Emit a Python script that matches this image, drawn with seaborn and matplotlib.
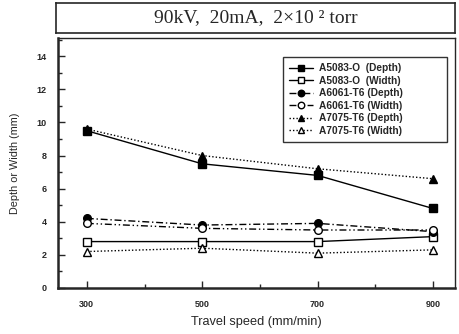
import matplotlib
matplotlib.use("Agg")
import matplotlib.pyplot as plt
import seaborn as sns
import pandas as pd
from matplotlib.ticker import MultipleLocator

speeds = [300, 500, 700, 900]
a5083_depth = [9.5, 7.5, 6.8, 4.8]
a5083_width = [2.8, 2.8, 2.8, 3.1]
a6061_depth = [4.2, 3.8, 3.9, 3.4]
a6061_width = [3.9, 3.6, 3.5, 3.5]
a7075_depth = [9.6, 8.0, 7.2, 6.6]
a7075_width = [2.2, 2.4, 2.1, 2.3]

labels = ["A5083-O  (Depth)", "A5083-O  (Width)", "A6061-T6 (Depth)",
          "A6061-T6 (Width)", "A7075-T6 (Depth)", "A7075-T6 (Width)"]
series = [a5083_depth, a5083_width, a6061_depth, a6061_width, a7075_depth, a7075_width]
title_text = "90kV,  20mA,  2×10 ² torr"

sns.set_style("ticks")
plt.rcParams['font.family'] = ['Liberation Sans', 'DejaVu Sans']

fig = plt.figure(figsize=(4.6, 3.34), dpi=100)

# title box
tax = fig.add_axes([0.122, 0.901, 0.867, 0.090])
tax.set_xticks([]); tax.set_yticks([])
for s in tax.spines.values():
    s.set_linewidth(1.2)
tax.text(0.5, 0.5, title_text, ha='center', va='center', fontsize=14,
         family=['Liberation Serif', 'DejaVu Serif'])

ax = fig.add_axes([0.126, 0.138, 0.863, 0.748])
styles = [
    dict(marker='s', mfc='black', ls='-'),
    dict(marker='s', mfc='white', ls='-'),
    dict(marker='o', mfc='black', ls=(0, (5, 2, 1, 2))),
    dict(marker='o', mfc='white', ls=(0, (5, 2, 1, 2, 1, 2))),
    dict(marker='^', mfc='black', ls=(0, (1, 1.5))),
    dict(marker='^', mfc='white', ls=(0, (1, 1.5))),
]
for lab, vals, st in zip(labels, series, styles):
    df = pd.DataFrame({"speed": speeds, "value": vals})
    sns.lineplot(data=df, x="speed", y="value", ax=ax, color='black',
                 marker=st['marker'], markersize=5.5, markerfacecolor=st['mfc'],
                 markeredgecolor='black', markeredgewidth=1.0,
                 linestyle=st['ls'], linewidth=1.0, label=lab)

ax.set_xlim(250, 938)
ax.set_ylim(0, 15.1)
ax.set_xticks(speeds)
ax.xaxis.set_minor_locator(MultipleLocator(100))
ax.yaxis.set_major_locator(MultipleLocator(2))
ax.yaxis.set_minor_locator(MultipleLocator(1))
ax.tick_params(which='both', direction='in', labelsize=6.5)
ax.tick_params(which='major', length=5, width=1)
ax.tick_params(which='minor', length=3, width=1)
for t in ax.get_xticklabels() + ax.get_yticklabels():
    t.set_fontweight('bold')
ax.tick_params(axis='x', pad=9)
ax.tick_params(axis='y', pad=8)
ax.set_xlabel("Travel speed (mm/min)", fontsize=9.2, labelpad=5)
ax.set_ylabel("Depth or Width (mm)", fontsize=7.8, labelpad=12)
for s in ['left', 'bottom']:
    ax.spines[s].set_linewidth(1.8)
for s in ['top', 'right']:
    ax.spines[s].set_linewidth(1.0)

leg = ax.legend(loc='upper left', bbox_to_anchor=(0.567, 0.604, 0.413, 0.32),
                mode='expand', fontsize=7.3,
                frameon=True, fancybox=False, edgecolor='black',
                handlelength=2.4, handletextpad=0.5, labelspacing=0.25,
                borderpad=0.6, borderaxespad=0, markerscale=0.85)
leg.get_frame().set_linewidth(1.0)
for t in leg.get_texts():
    t.set_fontweight('bold')

fig.savefig("out.png", dpi=100)
